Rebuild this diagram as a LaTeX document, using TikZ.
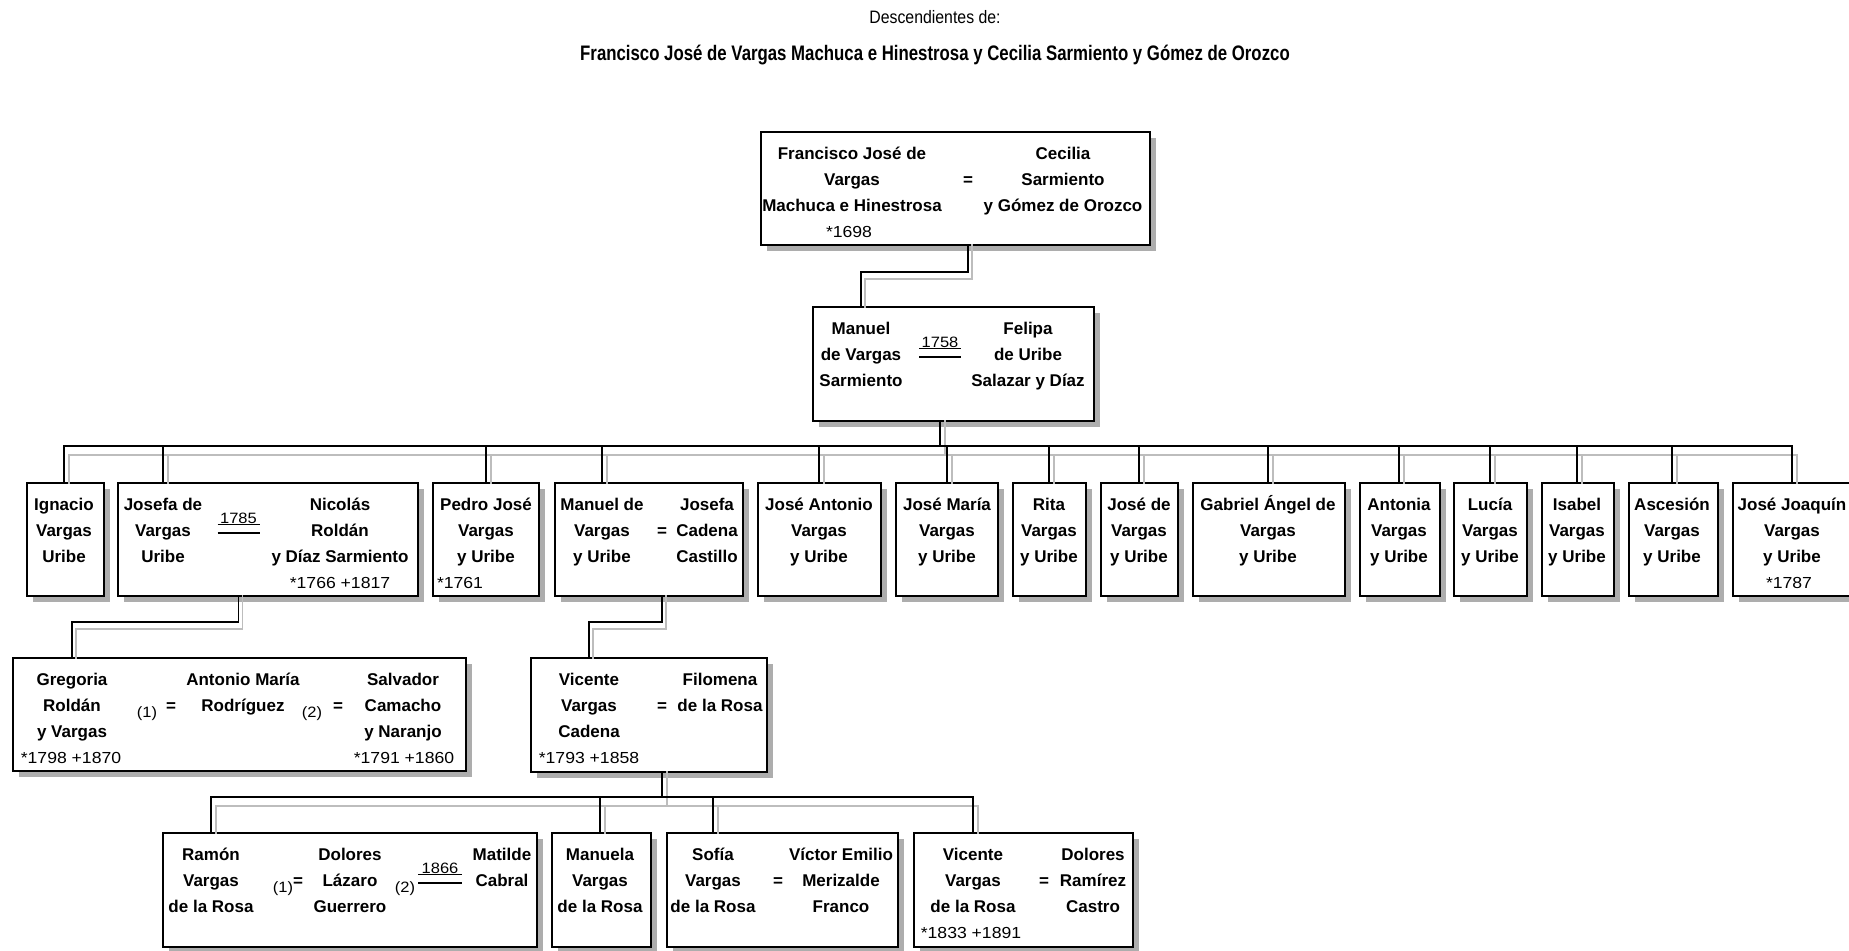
\documentclass[tikz,border=0pt]{standalone}
\usepackage{fontspec}
\setmainfont{Liberation Sans}
\newfontfamily\datefamily{Liberation Sans}[FakeStretch=1.1]
\newfontfamily\narrowfamily{Liberation Sans}[FakeStretch=0.88]
\newfontfamily\titlefamily{Liberation Sans}[FakeStretch=0.8]
\usetikzlibrary{calc,shadows}
\definecolor{cardshade}{gray}{0.68}
\definecolor{kinshade}{gray}{0.74}

\tikzset{
  famcard/.style={draw=black, line width=1.7pt, fill=white, inner sep=0pt, outer sep=0pt,
    drop shadow={shadow xshift=6pt, shadow yshift=-6pt, fill=cardshade, opacity=1}},
  nm/.style={anchor=base, inner sep=0pt, font=\fontsize{17}{20}\selectfont\bfseries},
  dt/.style={anchor=base, inner sep=0pt, font=\datefamily\fontsize{16}{20}\selectfont},
  mk/.style={anchor=base, inner sep=0pt, font=\datefamily\fontsize{15}{18}\selectfont},
  kin/.style={draw=black, line width=1.6pt, line cap=rect},
  kinlight/.style={draw=kinshade, line width=1.6pt, line cap=rect},
}

% a family card: name, left, top, right, bottom (pixels, y downwards)
\newcommand\card[5]{\node[famcard, minimum width={(#4)-(#2)}, minimum height={(#5)-(#3)}] (#1) at ({((#2)+(#4))/2},{((#3)+(#5))/2}) {};}
% a column of names: prefix, centre x, card top, lines
\newcommand\namecol[4]{\foreach \nameline [count=\k] in {#4}{\node[nm] (#1\k) at ({#2},{#3+27+26*(\k-1)}) {\nameline};}}
% birth and death dates on the fourth line
\newcommand\datum[4]{\node[dt] (#1) at ({#2},{#3+105}) {#4};}
% marriage sign on the second line
\newcommand\wed[3]{\node[nm] (#1) at ({#2},{#3+53}) {=};}
% numbered marriage
\newcommand\nth[4]{\node[mk] (#1) at ({#2},{#3+59}) {(#4)};}
% marriage with its year over a double bar
\newcommand\wedyear[5]{%
  \node[mk] (#1) at ({#2},{#3+40}) {#4};
  \draw[line width=0.9pt] ($(#1.base)+(-#5,1.5)$) -- ($(#1.base)+(#5,1.5)$);
  \draw[line width=1.8pt] ($(#1.base)+(-#5,10)$) -- ($(#1.base)+(#5,10)$);}
% parent to one child
\newcommand\elbow[5]{%
  \draw[kinlight] ($(#1.south -| #2)+(4,0)$) -- ($(#2 |- #3)+(4,7)$) -- ($(#4 |- #3)+(4,7)$) -- ($(#4 |- #5.north)+(4,0)$);
  \draw[kin] (#1.south -| #2) -- (#2 |- #3) -- (#4 |- #3) -- (#4 |- #5.north);}
% parent to several children along a bar
\newcommand\kinbus[6]{%
  \draw[kinlight] ($(#1.south -| #2)+(5,0)$) -- ($(#2 |- #3)+(5,9)$);
  \draw[kinlight] ($(#4 |- #3)+(5,9)$) -- ($(#5 |- #3)+(5,9)$);
  \foreach \ch/\cc in {#6}{\draw[kinlight] ($(\ch |- #3)+(5,9)$) -- ($(\ch |- \cc.north)+(5,0)$);}
  \draw[kin] (#1.south -| #2) -- (#2 |- #3);
  \draw[kin] (#4 |- #3) -- (#5 |- #3);
  \foreach \ch/\cc in {#6}{\draw[kin] (\ch |- #3) -- (\ch |- \cc.north);}}

\begin{document}
\begin{tikzpicture}[x=1pt,y=-1pt]
\useasboundingbox (0,0) rectangle (1849,950);
\fill[white] (0,0) rectangle (1849,950);

% heading
\node[anchor=base, inner sep=0pt, font=\narrowfamily\fontsize{18}{22}\selectfont] (heading) at (935,24) {Descendientes de:};
\node[anchor=base, inner sep=0pt, font=\titlefamily\fontsize{21}{26}\selectfont\bfseries] (title) at (935,60) {Francisco José de Vargas Machuca e Hinestrosa y Cecilia Sarmiento y Gómez de Orozco};

% cards
\card{cA}{761}{132}{1150}{245}
\card{cB}{813}{307}{1094}{421}
\card{c1}{27}{483}{104}{596}
\card{c2}{118}{483}{418}{596}
\card{c3}{433}{483}{539}{596}
\card{c4}{555}{483}{743}{596}
\card{c5}{758}{483}{881}{596}
\card{c6}{896}{483}{998}{596}
\card{c7}{1013}{483}{1086}{596}
\card{c8}{1101}{483}{1178}{596}
\card{c9}{1193}{483}{1345}{596}
\card{c10}{1360}{483}{1440}{596}
\card{c11}{1454}{483}{1527}{596}
\card{c12}{1542}{483}{1614}{596}
\card{c13}{1629}{483}{1718}{596}
\card{c14}{1733}{483}{1851}{596}
\card{cG}{13}{658}{466}{771}
\card{cV}{531}{658}{767}{772}
\card{cR}{163}{833}{537}{947}
\card{cMa}{552}{833}{651}{947}
\card{cS}{667}{833}{898}{947}
\card{cV2}{914}{833}{1133}{947}

% first couple
\namecol{francisco}{852}{132}{Francisco José de,Vargas,Machuca e Hinestrosa}
\datum{franciscod}{849}{132}{*1698}
\wed{Aeq}{968}{132}
\namecol{cecilia}{1063}{132}{Cecilia,Sarmiento,y Gómez de Orozco}

% second generation
\namecol{manuel}{861}{307}{Manuel,de Vargas,Sarmiento}
\wedyear{Bwed}{940}{307}{1758}{21}
\namecol{felipa}{1028}{307}{Felipa,de Uribe,Salazar y Díaz}

% children of Manuel and Felipa
\namecol{ignacio}{64}{483}{Ignacio,Vargas,Uribe}
\namecol{josefa}{163}{483}{Josefa de,Vargas,Uribe}
\wedyear{Jwed}{238.5}{483}{1785}{21}
\namecol{nicolas}{340}{483}{Nicolás,Roldán,y Díaz Sarmiento}
\datum{nicolasd}{340}{483}{*1766 +1817}
\namecol{pedro}{486}{483}{Pedro José,Vargas,y Uribe}
\datum{pedrod}{460}{483}{*1761}
\namecol{manueljr}{602}{483}{Manuel de,Vargas,y Uribe}
\wed{Meq}{662}{483}
\namecol{josefac}{707}{483}{Josefa,Cadena,Castillo}
\namecol{joseantonio}{819}{483}{José Antonio,Vargas,y Uribe}
\namecol{josemaria}{947}{483}{José María,Vargas,y Uribe}
\namecol{rita}{1049}{483}{Rita,Vargas,y Uribe}
\namecol{josede}{1139}{483}{José de,Vargas,y Uribe}
\namecol{gabriel}{1268}{483}{Gabriel Ángel de,Vargas,y Uribe}
\namecol{antonia}{1399}{483}{Antonia,Vargas,y Uribe}
\namecol{lucia}{1490}{483}{Lucía,Vargas,y Uribe}
\namecol{isabel}{1577}{483}{Isabel,Vargas,y Uribe}
\namecol{ascesion}{1672}{483}{Ascesión,Vargas,y Uribe}
\namecol{josejoaquin}{1792}{483}{José Joaquín,Vargas,y Uribe}
\datum{josejoaquind}{1789}{483}{*1787}

% Gregoria and her two husbands
\namecol{gregoria}{72}{658}{Gregoria,Roldán,y Vargas}
\datum{gregoriad}{71}{658}{*1798 +1870}
\nth{Gn1}{147}{658}{1}
\wed{Geq1}{171}{658}
\namecol{antonio}{243}{658}{Antonio María,Rodríguez}
\nth{Gn2}{312}{658}{2}
\wed{Geq2}{338}{658}
\namecol{salvador}{403}{658}{Salvador,Camacho,y Naranjo}
\datum{salvadord}{404}{658}{*1791 +1860}

% Vicente and Filomena
\namecol{vicente}{589}{658}{Vicente,Vargas,Cadena}
\datum{vicented}{589}{658}{*1793 +1858}
\wed{Veq}{662}{658}
\namecol{filomena}{720}{658}{Filomena,de la Rosa}

% their children
\namecol{ramon}{211}{833}{Ramón,Vargas,de la Rosa}
\nth{Rn1}{283}{833}{1}
\wed{Req}{298}{833}
\namecol{dolores}{350}{833}{Dolores,Lázaro,Guerrero}
\nth{Rn2}{405}{833}{2}
\wedyear{Rwed}{440}{833}{1866}{22}
\namecol{matilde}{502}{833}{Matilde,Cabral}
\namecol{manuela}{600}{833}{Manuela,Vargas,de la Rosa}
\namecol{sofia}{713}{833}{Sofía,Vargas,de la Rosa}
\wed{Seq}{778}{833}
\namecol{victor}{841}{833}{Víctor Emilio,Merizalde,Franco}
\namecol{vicentejr}{973}{833}{Vicente,Vargas,de la Rosa}
\datum{vicentejrd}{971}{833}{*1833 +1891}
\wed{Veqjr}{1044}{833}
\namecol{doloresr}{1093}{833}{Dolores,Ramírez,Castro}

% bar heights
\coordinate (barA) at (0,272);
\coordinate (bar3) at (0,446);
\coordinate (barJ) at (0,622);
\coordinate (barM) at (0,622);
\coordinate (bar4) at (0,797);

% descent lines
\elbow{cA}{Aeq}{barA}{manuel1}{cB}
\kinbus{cB}{Bwed}{bar3}{ignacio1}{josejoaquin1}{ignacio1/c1,josefa1/c2,pedro1/c3,manueljr1/c4,joseantonio1/c5,josemaria1/c6,rita1/c7,josede1/c8,gabriel1/c9,antonia1/c10,lucia1/c11,isabel1/c12,ascesion1/c13,josejoaquin1/c14}
\elbow{c2}{Jwed}{barJ}{gregoria1}{cG}
\elbow{c4}{Meq}{barM}{vicente1}{cV}
\kinbus{cV}{Veq}{bar4}{ramon1}{vicentejr1}{ramon1/cR,manuela1/cMa,sofia1/cS,vicentejr1/cV2}
\end{tikzpicture}
\end{document}
